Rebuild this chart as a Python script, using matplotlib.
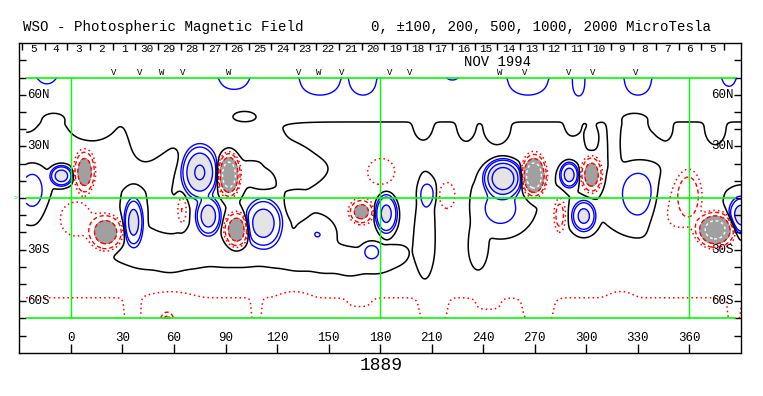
import numpy as np
import matplotlib
matplotlib.use('Agg')
import matplotlib.pyplot as plt

plt.rcParams['font.family'] = ['Liberation Mono', 'DejaVu Sans Mono']

# day numbers in the top strip, left to right
days = [5, 4, 3, 2, 1, 30, 29, 28, 27, 26, 25, 24, 23, 22, 21, 20, 19, 18,
        17, 16, 15, 14, 13, 12, 11, 10, 9, 8, 7, 6, 5]
day_start = -28.3
day_step = 13.17

# observation marks above the map
mark_lon = [25, 40, 52.6, 65, 92, 132.6, 144.2, 157.3, 185.5, 197.2,
            249.3, 264, 289.6, 303.6, 328.4]
mark_txt = ['V', 'V', 'W', 'V', 'W', 'V', 'W', 'V', 'V', 'V',
            'W', 'V', 'V', 'V', 'V']

lon_ticks = [0, 30, 60, 90, 120, 150, 180, 210, 240, 270, 300, 330, 360]
lat_labels = {60: '60N', 30: '30N', -30: '30S', -60: '60S'}

# zonal field: polar caps and the weak northern band (microtesla)
band_lat = [90, 32, -90]
band_amp = [134, -70, -243]
band_wlat = [24, 8, 24]

# active regions: lon, lat, peak, half widths
spot_lon = [-22.5, -5.5, 8, 20.5, 36.5, 64.7, 75, 92, 80, 96.5,
            112, 144, 169, 181, 183.5, 175, 207.7, 218.4, 251.5, 250,
            269.5, 290, 303, 298.5, 284.5, 330, 375, 360, 352, 390]
spot_lat = [4.6, 12.9, 15, -20, -14, -7, 15, 13.5, -10.5, -18.5,
            -14.5, -20, -8, 16, -9, -31, 2.6, 2, 11.5, -6,
            13, 13.5, 13.5, -10.5, -10, 2, -18.5, 2, -5, -10]
spot_amp = [150, 700, -800, -800, 650, -200, 1050, -1500, 700, -850,
            700, 100, -650, -110, 650, 140, 130, -110, 1500, 150,
            -1600, 650, -800, 600, -260, 150, -1300, -230, -120, 650]
spot_wlon = [7.8, 5.3, 5, 8, 4.6, 2.7, 8.3, 5.1, 6, 6,
             9, 8.4, 5.5, 8.7, 5.8, 5, 4.9, 5, 8.5, 12,
             5.6, 4.5, 5, 5.8, 3.4, 9.5, 9, 7, 14, 6]
spot_wlat = [12.8, 4.9, 9.8, 8.5, 11.5, 8, 12.1, 9.9, 9, 8.4,
             11.5, 7.3, 5.5, 7.4, 10, 5, 6.9, 7.5, 8.5, 12,
             9.3, 6.2, 8.5, 7.5, 10, 13, 8.2, 14, 20, 9]

# weak background patches that shape the zero line
patch_lon = [3, 92, 132, 177, 206, 221, 237, 332, 43, 112, 132, 162, 101,
             -27, -10, 12, 205, 230, 248, 292, 303, 316, 328, 340, 346, 375,
             35, 50, 65, 80, 95, 110, 125, 140, 155, 170, 185,
             307, 331, 350]
patch_lat = [-12, 32, 22, -2, -22, -10, -30, 5, 34, 11, -5.4, 6, 48,
             40, 47, 38, 38, 37, 36, 39, 33, 32, 47, 40, 37, 36,
             -31, -36, -37, -29, -34, -29, -35, -35, -40, -40, -36,
             -39, -41.5, -43]
patch_amp = [-130, 90, 50, -80, 100, -70, 60, 45, 80, -60, -60, 40, -40,
             40, -30, 75, 70, 70, 80, 55, 85, 90, -30, 40, 70, 80,
             30, 30, 30, 30, 30, 30, 30, 30, 30, 30, 30,
             -40, -35, -25]
patch_wlon = [14, 45, 18, 22, 5, 8, 5, 18, 12, 5, 6, 4, 7.5,
              8, 7, 14, 6, 6, 9, 5, 6, 5, 8, 4, 5, 7,
              14, 14, 14, 14, 14, 14, 14, 14, 14, 14, 14,
              2.5, 3, 2.5]
patch_wlat = [15, 10, 10, 22, 28, 30, 14, 22, 12, 4.5, 6, 4, 3.5,
              7, 4, 8, 8, 8, 8, 7, 8, 12, 4, 6, 7, 8,
              12, 12, 12, 12, 12, 12, 12, 12, 12, 12, 12,
              3, 4.5, 4]

# polar ripples: north bulges of the +100 line, south gaps and dips of -100
polar_lon = [-14, 95, 145, 170, 266, 295.5, 330, 383, 222,
             36, 58, 56, 108, 130, 168, 211, 243, 272, 320, 350, 372, 386]
polar_lat = [70, 66, 64, 64, 64, 63, 64, 68, 70,
             -72, -62, -72, -72, -62, -64, -72, -66, -72, -62, -68, -70, -72]
polar_amp = [25, 30, 45, 45, 45, 45, 45, 25, 10,
             110, -45, -700, 90, -45, 30, 100, 40, 100, -45, 40, 45, 90]
polar_wlon = [5, 9, 12, 8, 12, 4, 8, 4, 4,
              6, 14, 2.5, 4, 10, 10, 10, 12, 11, 8, 8, 8, 5]
polar_wlat = [5, 7, 8, 8, 8, 8, 8, 6, 5,
              14, 8, 3.5, 14, 8, 6, 14, 7, 14, 8, 6, 6, 14]

BLUE = '#0000ff'
RED = '#ff0000'
GREEN = '#00ff00'


def add_blobs(field, LON, LAT, lons, lats, amps, wlons, wlats):
    for lo, la, a, wx, wy in zip(lons, lats, amps, wlons, wlats):
        d = np.sqrt(((LON - lo) / wx) ** 2 + ((LAT - la) / wy) ** 2)
        field += a * np.exp(-d ** 3)


def build_field():
    lon = np.arange(-26, 390.01, 0.5)
    lat = np.arange(-70, 70.01, 0.5)
    LON, LAT = np.meshgrid(lon, lat)
    field = np.zeros_like(LON)
    for la, a, w in zip(band_lat, band_amp, band_wlat):
        field += a * np.exp(-0.5 * ((LAT - la) / w) ** 2)
    add_blobs(field, LON, LAT, spot_lon, spot_lat, spot_amp, spot_wlon, spot_wlat)
    add_blobs(field, LON, LAT, patch_lon, patch_lat, patch_amp, patch_wlon, patch_wlat)
    add_blobs(field, LON, LAT, polar_lon, polar_lat, polar_amp, polar_wlon, polar_wlat)
    return LON, LAT, field


def draw_contours(ax, LON, LAT, field):
    ax.contourf(LON, LAT, field, levels=[-1e5, -500], colors=['#a0a0a0'], zorder=1)
    ax.contourf(LON, LAT, field, levels=[500, 1e5], colors=['#e4e4e4'], zorder=1)
    ax.contour(LON, LAT, field, levels=[100, 200, 500, 1000, 2000],
               colors=BLUE, linewidths=1.0, linestyles='solid', zorder=2)
    ax.contour(LON, LAT, field, levels=[-100], colors=RED,
               linewidths=1.1, linestyles=[(0, (1, 2))], zorder=2)
    ax.contour(LON, LAT, field, levels=[-500, -200], colors=RED,
               linewidths=1.0, linestyles=[(0, (3, 2))], zorder=2)
    ax.contour(LON, LAT, field, levels=[-2000, -1000], colors='white',
               linewidths=1.0, linestyles=[(0, (2, 2))], zorder=2)
    ax.contour(LON, LAT, field, levels=[0], colors='black',
               linewidths=1.1, linestyles='solid', zorder=2)


def draw_frame(ax):
    for la in [70, 0, -70]:
        ax.plot([-25.5, 386.6], [la, la], color=GREEN, lw=1.2, zorder=3)
    for lo in [0, 180, 360]:
        ax.plot([lo, lo], [-70, 70], color=GREEN, lw=1.0, zorder=3)

    ax.set_xlim(-30, 390)
    ax.set_ylim(-90, 90)
    ax.set_xticks(lon_ticks)
    ax.set_yticks(range(-80, 81, 10))
    ax.tick_params(axis='x', direction='in', length=6.5, width=1,
                   top=False, labelbottom=False)
    ax.tick_params(axis='y', direction='in', length=5, width=1,
                   right=True, labelleft=False)
    for s in ax.spines.values():
        s.set_linewidth(1.0)

    for lo in lon_ticks:
        ax.text(lo, -81.3, str(lo), ha='center', va='center', fontsize=9)
    for la, txt in lat_labels.items():
        ax.text(-25.6, la, txt, ha='left', va='center', fontsize=9)
        ax.text(385.6, la, txt, ha='right', va='center', fontsize=9)

    edges = [day_start + day_step * k for k in range(len(days) + 1)]
    ax.vlines(edges, 86.3, 90, color='black', lw=1.0)
    for k, d in enumerate(days):
        ax.text(edges[k] + day_step / 2, 86.4, str(d), ha='center',
                va='center', fontsize=8)
    ax.text(248.2, 79.2, 'NOV 1994', ha='center', va='center', fontsize=10)
    for lo, t in zip(mark_lon, mark_txt):
        ax.text(lo, 70.4, t, ha='center', va='bottom', fontsize=6.5)


fig = plt.figure(figsize=(7.63, 3.96), dpi=100)
ax = fig.add_axes([19.3 / 763, (396 - 352.7) / 396,
                   (741 - 19.3) / 763, (352.7 - 43.3) / 396])

LON, LAT, field = build_field()
draw_contours(ax, LON, LAT, field)
draw_frame(ax)

fig.text(23 / 763, 1 - 27 / 396, 'WSO - Photospheric Magnetic Field',
         fontsize=10.2, va='center')
fig.text(371 / 763, 1 - 27 / 396, '0, \u00b1100, 200, 500, 1000, 2000 MicroTesla',
         fontsize=10.2, va='center')
fig.text(16 / 763, 1 - 198 / 396, '>', fontsize=5, color=GREEN,
         ha='center', va='center')
fig.text(381 / 763, 1 - 366 / 396, '1889', fontsize=13, ha='center', va='center')

fig.savefig('out.png', dpi=100)
